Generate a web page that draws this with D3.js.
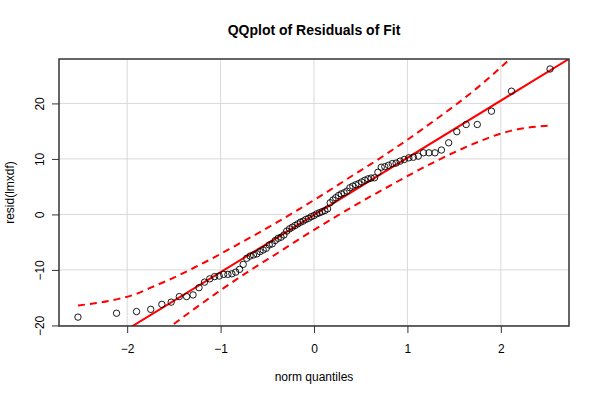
<!DOCTYPE html>
<html>
<head>
<meta charset="utf-8">
<script src="https://cdn.jsdelivr.net/npm/d3@7"></script>
<style>
  body { margin: 0; background: #fff; }
  svg { font-family: "Liberation Sans", Arial, sans-serif; }
</style>
</head>
<body>
<div class="qq-container"></div>
<script>
// Theoretical normal quantiles (x) and sorted residuals (y).
const normQuantiles = [
  -2.527, -2.114, -1.900, -1.748, -1.629, -1.529, -1.442, -1.364, -1.295, -1.231,
  -1.172, -1.116, -1.064, -1.015, -0.967, -0.922, -0.879, -0.838, -0.797, -0.758,
  -0.720, -0.684, -0.648, -0.612, -0.578, -0.544, -0.511, -0.479, -0.447, -0.415,
  -0.384, -0.353, -0.322, -0.292, -0.262, -0.232, -0.203, -0.173, -0.145, -0.116,
  -0.087, -0.058, -0.029, 0.000, 0.029, 0.058, 0.087, 0.116, 0.145, 0.173,
  0.203, 0.232, 0.262, 0.292, 0.322, 0.353, 0.384, 0.415, 0.447, 0.479,
  0.511, 0.544, 0.578, 0.612, 0.648, 0.684, 0.720, 0.758, 0.797, 0.838,
  0.879, 0.922, 0.967, 1.015, 1.064, 1.116, 1.172, 1.231, 1.295, 1.364,
  1.442, 1.529, 1.629, 1.748, 1.900, 2.114, 2.527
];
const residuals = [
  -18.5, -17.8, -17.5, -17.1, -16.2, -15.8, -14.8, -14.8, -14.5, -13.2,
  -12.2, -11.6, -11.2, -11.1, -10.8, -10.8, -10.7, -10.4, -9.9, -9.0,
  -7.9, -7.5, -7.3, -7.1, -6.7, -6.4, -6.1, -5.5, -5.3, -4.7,
  -4.3, -4.1, -3.7, -3.0, -2.6, -2.3, -2.0, -1.7, -1.4, -1.2,
  -0.9, -0.7, -0.4, -0.2, 0.1, 0.3, 0.5, 0.7, 1.0, 2.1,
  2.6, 3.0, 3.4, 3.7, 3.9, 4.2, 4.8, 5.1, 5.35, 5.55,
  5.85, 6.15, 6.4, 6.55, 6.6, 7.6, 8.5, 8.6, 8.85, 9.15,
  9.25, 9.6, 9.9, 10.2, 10.3, 10.5, 11.1, 11.1, 11.1, 11.6,
  12.9, 14.9, 16.2, 16.2, 18.6, 22.2, 26.2
];

// Reference line (two end points) and the dashed confidence envelope.
const fitLineX = [-2.8, 2.8];
const fitLineY = [-28.94, 28.74];

const bandX = [
  -2.527, -2.114, -1.900, -1.748, -1.529, -1.295, -1.064, -0.838, -0.612, -0.384, -0.145,
  0.145, 0.384, 0.612, 0.838, 1.064, 1.295, 1.529, 1.748, 1.900, 2.114, 2.527
];
const bandUpper = [
  -16.4, -15.3, -14.3, -13.2, -11.6, -9.7, -7.7, -5.6, -3.5, -1.3, 1.1,
  4.1, 6.7, 9.1, 11.6, 14.2, 17.0, 19.9, 22.8, 25.0, 28.3, 35.9
];
const bandLower = [
  -36.0, -28.5, -25.2, -23.0, -20.1, -17.2, -14.4, -11.8, -9.3, -6.9, -4.3,
  -1.3, 1.1, 3.3, 5.4, 7.5, 9.5, 11.4, 13.0, 14.0, 15.1, 16.0
];

const xTicks = [-2, -1, 0, 1, 2];
const yTicks = [-20, -10, 0, 10, 20];

// Margin convention.
const margin = { top: 59, right: 31, bottom: 74, left: 59 };
const width = 600 - margin.left - margin.right;
const height = 400 - margin.top - margin.bottom;

const root = d3
  .select(".qq-container")
  .append("svg")
  .attr("width", 600)
  .attr("height", 400);

const svg = root
  .append("g")
  .attr("transform", `translate(${margin.left}, ${margin.top})`);

// Scales.
const xScale = d3.scaleLinear().domain([-2.73, 2.73]).range([0, width]);
const yScale = d3.scaleLinear().domain([-20.1, 28.0]).range([height, 0]);

svg
  .append("clipPath")
  .attr("id", "plot-clip")
  .append("rect")
  .attr("width", width)
  .attr("height", height);

// Grid.
const grid = svg.append("g").attr("class", "grid");
grid
  .selectAll(".vgrid")
  .data(xTicks)
  .enter()
  .append("line")
  .attr("x1", (d) => xScale(d))
  .attr("x2", (d) => xScale(d))
  .attr("y1", 0)
  .attr("y2", height)
  .style("stroke", "#d9d9d9")
  .style("stroke-width", 1);
grid
  .selectAll(".hgrid")
  .data(yTicks)
  .enter()
  .append("line")
  .attr("x1", 0)
  .attr("x2", width)
  .attr("y1", (d) => yScale(d))
  .attr("y2", (d) => yScale(d))
  .style("stroke", "#d9d9d9")
  .style("stroke-width", 1);

// Axes.
const xAxisDraw = svg
  .append("g")
  .attr("class", "x axis")
  .attr("transform", `translate(0, ${height})`)
  .call(
    d3.axisBottom(xScale).tickValues(xTicks).tickSize(7).tickFormat(d3.format("d"))
  );
xAxisDraw.select(".domain").remove();
xAxisDraw
  .selectAll("text")
  .attr("y", 26.5)
  .attr("dy", 0)
  .style("font-size", "12px")
  .style("fill", "#000");

const yAxisDraw = svg
  .append("g")
  .attr("class", "y axis")
  .call(
    d3.axisLeft(yScale).tickValues(yTicks).tickSize(7).tickFormat(d3.format("d"))
  );
yAxisDraw.select(".domain").remove();
yAxisDraw
  .selectAll("text")
  .attr("x", 0)
  .attr("dy", 0)
  .attr("transform", "translate(-15.5, 0) rotate(-90)")
  .style("text-anchor", "middle")
  .style("font-size", "12px")
  .style("fill", "#000");

svg.selectAll(".tick line").style("stroke", "#333");

// Lines.
const chart = svg.append("g").attr("clip-path", "url(#plot-clip)");

const fitLine = d3
  .line()
  .x((d) => xScale(d[0]))
  .y((d) => yScale(d[1]));

chart
  .append("path")
  .attr("d", fitLine(d3.zip(fitLineX, fitLineY)))
  .style("fill", "none")
  .style("stroke", "#ff0000")
  .style("stroke-width", 2);

const bandGen = d3
  .line()
  .curve(d3.curveMonotoneX)
  .x((d) => xScale(d[0]))
  .y((d) => yScale(d[1]));

[bandUpper, bandLower].forEach((band) => {
  chart
    .append("path")
    .attr("d", bandGen(d3.zip(bandX, band)))
    .style("fill", "none")
    .style("stroke", "#ff0000")
    .style("stroke-width", 2)
    .style("stroke-dasharray", "7,5");
});

// Points.
svg
  .append("g")
  .attr("class", "points")
  .selectAll("circle")
  .data(d3.zip(normQuantiles, residuals))
  .enter()
  .append("circle")
  .attr("cx", (d) => xScale(d[0]))
  .attr("cy", (d) => yScale(d[1]))
  .attr("r", 3.2)
  .style("fill", "none")
  .style("stroke", "#000")
  .style("stroke-width", 0.9);

// Box.
svg
  .append("rect")
  .attr("width", width)
  .attr("height", height)
  .style("fill", "none")
  .style("stroke", "#333")
  .style("stroke-width", 1.5);

// Titles.
root
  .append("text")
  .attr("x", margin.left + width / 2)
  .attr("y", 35)
  .attr("text-anchor", "middle")
  .style("font-size", "14px")
  .style("font-weight", "bold")
  .text("QQplot of Residuals of Fit");

root
  .append("text")
  .attr("x", margin.left + width / 2)
  .attr("y", 381)
  .attr("text-anchor", "middle")
  .style("font-size", "12px")
  .text("norm quantiles");

root
  .append("text")
  .attr("transform", `translate(14, ${margin.top + height / 2}) rotate(-90)`)
  .attr("text-anchor", "middle")
  .style("font-size", "12px")
  .text("resid(lmxdf)");
</script>
</body>
</html>
